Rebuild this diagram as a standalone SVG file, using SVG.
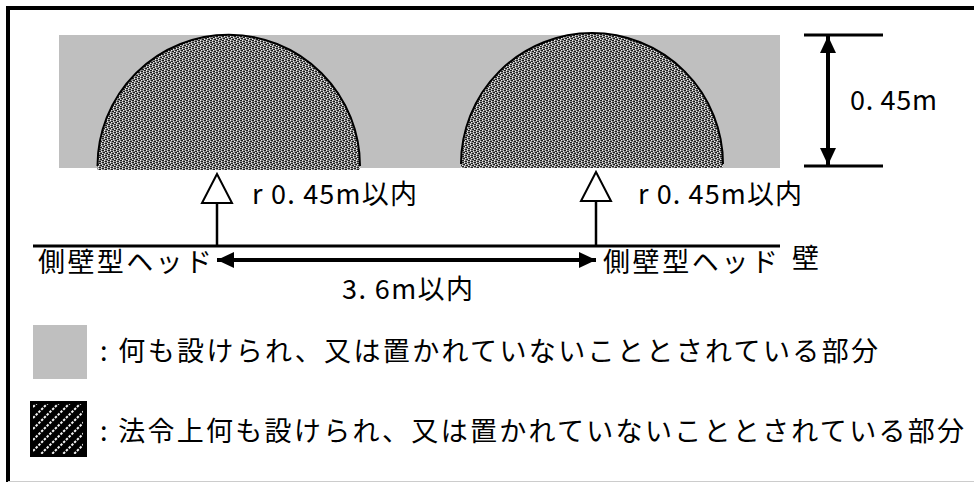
<svg xmlns="http://www.w3.org/2000/svg" width="974" height="482" viewBox="0 0 974 482">
<style>
text{font-family:"Noto Sans CJK JP","Noto Sans",sans-serif;font-size:27px;fill:#000;font-weight:400}
.l{stroke:#000;fill:none}
.dome{fill:url(#fine)}
.arc{fill:none;stroke:#000;stroke-width:2}
</style>
<defs>
<pattern id="fine" width="6" height="6" patternUnits="userSpaceOnUse">
<rect width="6" height="6" fill="#8c8c8c"/>
<path d="M0 0h2v1H0zM3 1h2v1H3zM1 2h2v1H1zM4 3h2v1H4zM0 4h2v1H0zM3 5h2v1H3z" fill="#1c1c1c" shape-rendering="crispEdges"/>
<path d="M2 0h1v1H2zM5 1h1v1H5zM3 2h1v1H3zM0 3h1v1H0zM2 4h1v1H2zM5 5h1v1H5z" fill="#f2f2f2" shape-rendering="crispEdges"/>
</pattern>
<pattern id="hatch" width="11" height="11" patternUnits="userSpaceOnUse">
<rect width="11" height="11" fill="#000"/>
<path d="M-2.750 2.750L2.750 -2.750M-2.750 13.750L13.750 -2.750M8.250 13.750L13.750 8.250" stroke="#f4f4f4" stroke-width="2" stroke-dasharray="2.500 1.390"/>
</pattern>
<marker id="a" markerUnits="userSpaceOnUse" markerWidth="18" markerHeight="18" refX="17" refY="8" orient="auto-start-reverse"><path d="M0 0L17 8L0 16Z" fill="#000"/></marker>
</defs>
<rect width="974" height="482" fill="#fff"/>
<path d="M8 482V8H974" fill="none" stroke="#000" stroke-width="4"/>
<path d="M8 481.500H974" stroke="#ccc" stroke-width="1"/>
<g id="gray-area"><rect x="59" y="35" width="721" height="133" fill="#bfbfbf"/></g>
<g id="dome-1"><path class="dome" d="M97.500 166A131.250 131.250 0 0 1 360 166V170H97.500Z"/><path class="arc" d="M97.500 166A131.250 131.250 0 0 1 360 166"/></g>
<g id="dome-2"><path class="dome" d="M461 164A131 131 0 0 1 723 164V168H461Z"/><path class="arc" d="M461 164A131 131 0 0 1 723 164"/></g>
<g id="connectors">
<path class="l" stroke-width="3" d="M33 246H780"/>
<path class="l" stroke-width="2.500" d="M217 245V202"/>
<path d="M217 174L232 203H202Z" fill="#fff" stroke="#000" stroke-width="2"/>
<path class="l" stroke-width="2.500" d="M596 245V202"/>
<path d="M596 172L611 201H581Z" fill="#fff" stroke="#000" stroke-width="2"/>
<path class="l" stroke-width="4" marker-start="url(#a)" marker-end="url(#a)" d="M217 260H596"/>
<path class="l" stroke-width="3" d="M804 35H883M804 166H883"/>
<path class="l" stroke-width="4" marker-start="url(#a)" marker-end="url(#a)" d="M828 36V165"/>
</g>
<g id="label-h"><text x="850" y="110" textLength="87">0. 45m</text></g>
<g id="label-r1"><text x="252" y="204" textLength="165">r 0. 45m以内</text></g>
<g id="label-r2"><text x="638" y="204" textLength="164">r 0. 45m以内</text></g>
<g id="head-1"><text x="38" y="272" textLength="174">側壁型ヘッド</text></g>
<g id="head-2"><text x="603" y="272" textLength="175">側壁型ヘッド</text></g>
<g id="wall"><text x="792" y="268">壁</text></g>
<g id="label-span"><text x="342" y="299" textLength="131">3. 6m以内</text></g>
<g id="legend-gray"><rect x="33" y="325" width="54" height="54" fill="#bfbfbf"/><text x="100" y="361" textLength="778">: 何も設けられ、又は置かれていないこととされている部分</text></g>
<g id="legend-hatch"><rect x="30" y="401" width="57" height="56" fill="#000"/><rect x="33" y="404" width="50" height="50" fill="url(#hatch)"/><text x="100" y="441" textLength="864">: 法令上何も設けられ、又は置かれていないこととされている部分</text></g>
</svg>
